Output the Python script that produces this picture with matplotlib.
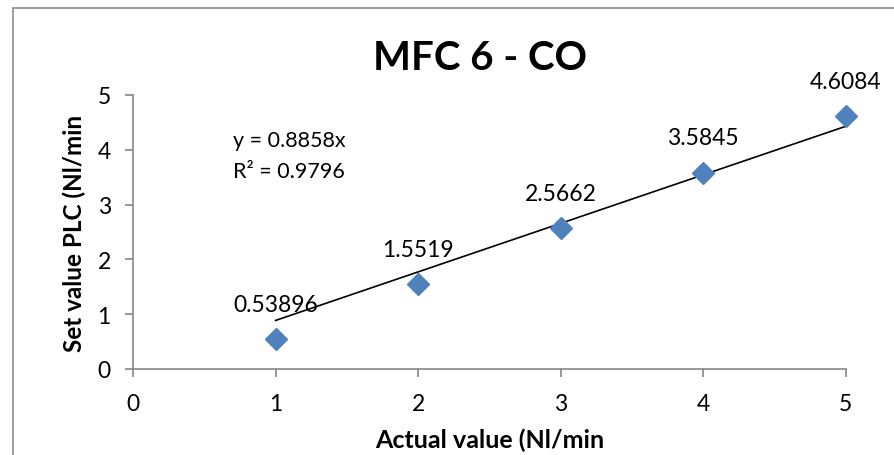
import matplotlib
matplotlib.use("Agg")
import matplotlib.pyplot as plt
import numpy as np
from matplotlib.patches import Rectangle

plt.rcParams['font.family'] = ['Lato', 'DejaVu Sans']

# Calibration data
actual = [1, 2, 3, 4, 5]
set_value = [0.53896, 1.5519, 2.5662, 3.5845, 4.6084]
value_labels = ["0.53896", "1.5519", "2.5662", "3.5845", "4.6084"]
slope = 0.8858
r_squared = 0.9796

title = "MFC 6 - CO"
xlabel = "Actual value (Nl/min"
ylabel = "Set value PLC (Nl/min"

fig = plt.figure(figsize=(8.95, 4.56), dpi=100)
ax = fig.add_axes([0.1486, 0.1886, 0.7964, 0.6009])

# Chart area frame (left and top edges visible)
W, H = 895, 456
frame = Rectangle((13.5 / W, -0.1), 1.2, (H - 8.5) / H + 0.1,
                  transform=fig.transFigure, fill=False,
                  edgecolor="#8c8c8c", linewidth=1.2)
fig.patches.append(frame)

# Points
ax.plot(actual, set_value, linestyle="none", marker="D", markersize=11,
        color="#4f81bd", zorder=3, clip_on=False)

# Linear trendline through the origin
xt = np.array([actual[0], actual[-1]], dtype=float)
ax.plot(xt, slope * xt, color="black", linewidth=1.2, zorder=2)

# Value labels
for x, y, s in zip(actual, set_value, value_labels):
    ax.annotate(s, (x, y), xytext=(0, 25), textcoords="offset points",
                ha="center", va="center", fontsize=16.5)

# Equation
ax.text(0.7, 3.9, f"y = {slope}x\nR² = {r_squared}", fontsize=15.5,
        ha="left", va="center", linespacing=1.7)

ax.set_xlim(0, 5)
ax.set_ylim(0, 5)
ax.set_xticks(range(6))
ax.set_yticks(range(6))

for side in ("top", "right"):
    ax.spines[side].set_visible(False)
for side in ("left", "bottom"):
    ax.spines[side].set_color("#868686")
    ax.spines[side].set_linewidth(1.2)

ax.tick_params(axis="both", direction="out", length=6, width=1.2,
               color="#868686", labelsize=16.5)
ax.tick_params(axis="x", pad=11)
ax.tick_params(axis="y", pad=10)

ax.set_xlabel(xlabel, fontsize=18, fontweight="bold", labelpad=10)
ax.set_ylabel(ylabel, fontsize=17.5, fontweight="bold", labelpad=8)

fig.text(480 / W, 1 - 58 / H, title, fontsize=29, fontweight="bold",
         ha="center", va="center")

fig.savefig("out.png", dpi=100)
